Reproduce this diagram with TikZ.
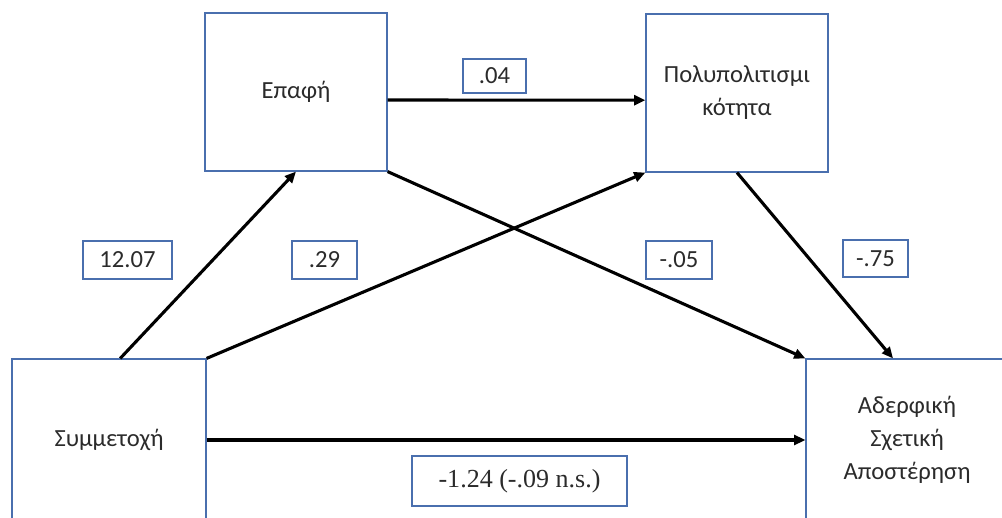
\documentclass[tikz,border=0pt]{standalone}
\usepackage{fontspec}
\setmainfont{Carlito}
\newfontfamily\timesfont{Liberation Serif}
\usepackage{xcolor}
\usepackage{tikz}
\usetikzlibrary{positioning}
\usetikzlibrary{arrows.meta}
\definecolor{boxblue}{HTML}{4A6FAE}
\definecolor{txtgray}{HTML}{2B2B2B}

\begin{document}
\begin{tikzpicture}[x=0.025cm,y=-0.025cm,
	var/.style={draw=boxblue,line width=0.8pt,fill=white,align=center,text=txtgray,font=\fontsize{17.5}{23.5}\selectfont},
	coef/.style={draw=boxblue,line width=0.8pt,fill=white,text=txtgray,font=\fontsize{17.5}{20}\selectfont,inner sep=0pt},
	path/.style={-{Triangle[length=8pt,width=7pt]},line width=2.2pt,black}]
		\useasboundingbox (0,0) rectangle (1002,518);
		\clip (0,0) rectangle (1002,518);

		% variables
		\node[var,minimum width=4.55cm,minimum height=3.95cm] (epafi) at (296,92) {Επαφή};
		\node[var,minimum width=4.55cm,minimum height=3.95cm] (poly) at (737,93) {Πολυπολιτισμι\\κότητα};
		\node[var,minimum width=4.85cm,minimum height=4.05cm] (symm) at (109,440) {Συμμετοχή};
		\node[var,minimum width=5.05cm,minimum height=4.05cm] (adelf) at (907,440) {Αδερφική\\Σχετική\\Αποστέρηση};

		% paths
		\draw[path] ([xshift=0.28cm]symm.north) -- (epafi.south);
		\draw[path] (symm.north east) -- (poly.south west);
		\draw[path] ([yshift=-0.2cm]epafi.east) -- ([yshift=-0.18cm]poly.west);
		\draw[path] (epafi.south east) -- (adelf.north west);
		\draw[path] (poly.south) -- ([xshift=-0.35cm]adelf.north);
		\draw[path] (symm.east) -- (adelf.west);

		% coefficients
		\node[coef,minimum width=1.575cm,minimum height=0.85cm] (c04) at (494.5,76) {.04};
		\node[coef,minimum width=2.225cm,minimum height=0.95cm] (c1207) at (127.5,260) {12.07};
		\node[coef,minimum width=1.625cm,minimum height=0.95cm] (c29) at (324.5,260) {.29};
		\node[coef,minimum width=1.65cm,minimum height=0.95cm] (c05) at (679,260) {-.05};
		\node[coef,minimum width=1.625cm,minimum height=0.925cm] (c75) at (875.5,258.5) {-.75};
		\node[coef,minimum width=5.375cm,minimum height=1.25cm,font=\timesfont\fontsize{18.5}{22}\selectfont] (c124) at (519.5,481) {-1.24 (-.09 n.s.)};

	\end{tikzpicture}
\end{document}
